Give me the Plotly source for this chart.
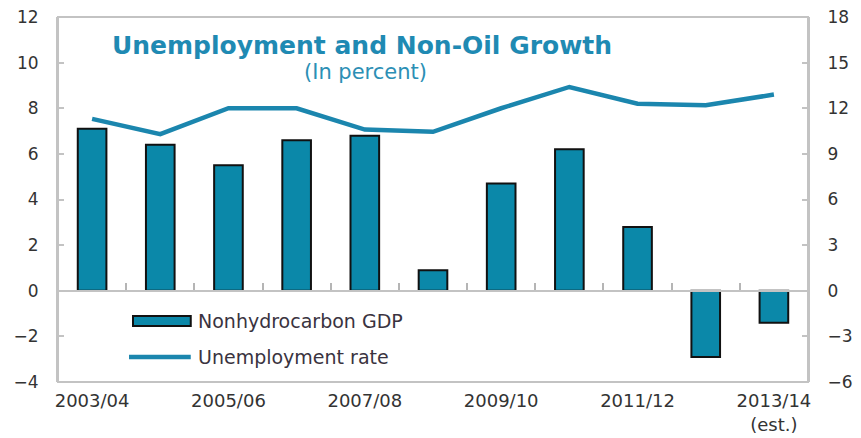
import plotly.graph_objects as go

categories = ["2003/04", "2004/05", "2005/06", "2006/07", "2007/08", "2008/09",
              "2009/10", "2010/11", "2011/12", "2012/13", "2013/14"]
nonhydro_gdp = [7.1, 6.4, 5.5, 6.6, 6.8, 0.9, 4.7, 6.2, 2.8, -2.9, -1.4]
unemployment = [11.3, 10.3, 12.0, 12.0, 10.6, 10.45, 12.0, 13.4, 12.3, 12.2, 12.9]
tick_text = ["2003/04", "", "2005/06", "", "2007/08", "", "2009/10", "", "2011/12", "", "2013/14<br>(est.)"]

BAR = "#0b88a9"
LINE = "#1b86ae"
FRAME = "#c3c3c3"
TXT = "#333333"
FONT = "DejaVu Sans"

fig = go.Figure()
fig.add_trace(go.Bar(x=categories, y=nonhydro_gdp, width=0.42, marker=dict(color=BAR, line=dict(color="#111111", width=2)),
                     name="Nonhydrocarbon GDP", showlegend=False, xaxis="x", yaxis="y"))
fig.add_trace(go.Scatter(x=categories, y=unemployment, mode="lines", line=dict(color=LINE, width=4.5),
                         name="Unemployment rate", showlegend=False, xaxis="x", yaxis="y2"))

fig.update_layout(
    width=861, height=438,
    margin=dict(l=58, r=53, t=17, b=56),
    paper_bgcolor="white", plot_bgcolor="rgba(0,0,0,0)",
    font=dict(family=FONT, size=16, color=TXT),
    xaxis=dict(type="category", categoryorder="array", categoryarray=categories, range=[-0.5, 10.5],
               tickmode="array", tickvals=categories, ticktext=tick_text, tickangle=0,
               anchor="free", position=0.25, side="bottom", showline=True, linecolor=FRAME, linewidth=2,
               ticks="inside", tickson="boundaries", ticklen=7, tickcolor="#b5b5b5", tickwidth=2,
               ticklabelstandoff=94, showgrid=False, tickfont=dict(size=18, color=TXT), automargin=False,
               layer="above traces"),
    yaxis=dict(range=[-4, 12], dtick=2, showline=True, linecolor=FRAME, linewidth=2, ticks="inside",
               ticklen=6, tickcolor=FRAME, tickwidth=2, showgrid=False, zeroline=False,
               tickfont=dict(size=17, color=TXT), ticklabelstandoff=14, automargin=False),
    yaxis2=dict(range=[-6, 18], dtick=3, overlaying="y", side="right", anchor="x", showline=True,
                linecolor=FRAME, linewidth=2, ticks="inside", ticklen=6, tickcolor=FRAME, tickwidth=2,
                showgrid=False, zeroline=False, tickfont=dict(size=17, color=TXT), ticklabelstandoff=14,
                automargin=False),
)

# plot frame
fig.add_shape(type="rect", xref="paper", yref="paper", x0=0, x1=1, y0=0, y1=1,
              line=dict(color=FRAME, width=2), layer="below")

fig.add_annotation(text="<b>Unemployment and Non-Oil Growth</b>", xref="paper", yref="paper",
                   x=0.405, y=0.923, yanchor="middle", showarrow=False, font=dict(family=FONT, size=25, color="#1f8ab3"))
fig.add_annotation(text="(In percent)", xref="paper", yref="paper",
                   x=0.41, y=0.849, yanchor="middle", showarrow=False, font=dict(family=FONT, size=21, color="#2c8fb5"))

# legend keys
fig.add_shape(type="rect", xref="paper", yref="paper", x0=0.1, x1=0.177, y0=0.1534, y1=0.181,
              fillcolor=BAR, line=dict(color="#111111", width=2))
fig.add_shape(type="line", xref="paper", yref="paper", x0=0.0947, x1=0.177, y0=0.0685, y1=0.0685,
              line=dict(color=LINE, width=4.5))
fig.add_annotation(text="Nonhydrocarbon GDP", xref="paper", yref="paper", x=0.184, y=0.167,
                   xanchor="left", yanchor="middle", showarrow=False, font=dict(family=FONT, size=19, color="#3a3340"))
fig.add_annotation(text="Unemployment rate", xref="paper", yref="paper", x=0.184, y=0.0685,
                   xanchor="left", yanchor="middle", showarrow=False, font=dict(family=FONT, size=19, color="#3a3340"))

fig.write_html("out.html")
